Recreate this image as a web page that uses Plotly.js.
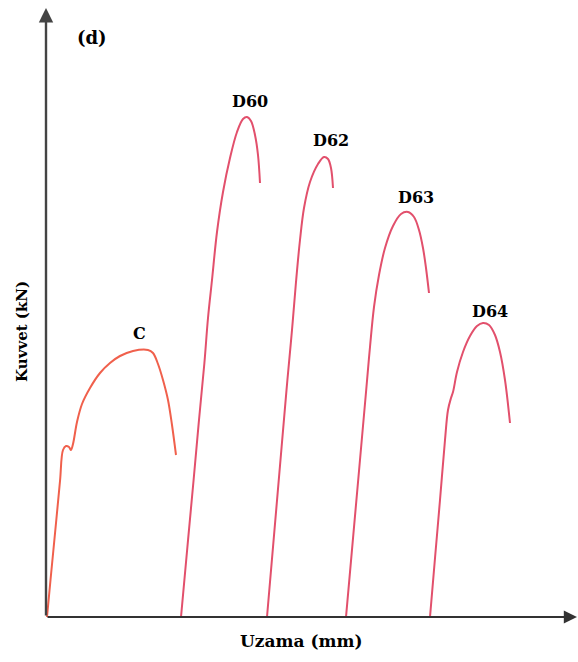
<!DOCTYPE html>
<html>
<head>
<meta charset="utf-8">
<script src="https://cdn.plot.ly/plotly-3.0.1.min.js"></script>
<style>html,body{margin:0;padding:0;background:#fff;}#chart{width:578px;height:662px;}</style>
</head>
<body>
<div id="chart"></div>
<script>
// Elongation (mm, arbitrary scale) and force (kN, arbitrary scale)
const seriesNames = ["C", "D60", "D62", "D63", "D64"];

const xC   = [0.1, 0.45, 1.03, 1.41, 1.7, 2.0, 2.3, 2.5, 2.7, 3.1, 3.6, 4.4, 5.4, 6.4, 7.4, 8.7, 10.2, 10.7, 11.2, 11.7, 12.2, 12.6, 13.0];
const yC   = [0.0, 3.7, 9.7, 13.7, 16.7, 17.1, 17.0, 16.7, 17.3, 19.5, 21.3, 22.9, 24.4, 25.4, 26.1, 26.6, 26.7, 26.4, 25.3, 23.7, 21.7, 19.2, 16.2];

const xD60 = [13.5, 14.14, 14.76, 15.3, 15.84, 16.2, 16.6, 17.1, 17.7, 18.4, 19.1, 19.7, 20.1, 20.5, 20.9, 21.2, 21.4];
const yD60 = [0.0, 7.0, 13.7, 19.7, 25.4, 29.9, 33.7, 38.5, 42.5, 45.9, 48.5, 49.8, 50.0, 49.6, 48.2, 46.2, 43.4];

const xD62 = [22.1, 23.56, 24.14, 24.6, 25.0, 25.4, 25.8, 26.4, 27.2, 27.8, 28.2, 28.5, 28.7];
const yD62 = [0.0, 17.0, 23.7, 28.7, 33.5, 37.7, 40.9, 43.5, 45.3, 46.0, 45.8, 44.9, 42.9];

const xD63 = [30.0, 31.22, 32.02, 32.4, 32.8, 33.3, 33.9, 34.7, 35.5, 36.2, 36.8, 37.3, 37.7, 38.0, 38.3];
const yD63 = [0.0, 13.7, 22.7, 27.0, 31.0, 34.2, 36.9, 39.1, 40.3, 40.5, 40.0, 38.7, 36.9, 34.9, 32.4];

const xD64 = [38.4, 38.91, 39.4, 39.9, 40.2, 40.5, 40.7, 41.1, 41.7, 42.4, 43.1, 43.7, 44.3, 44.9, 45.4, 45.9, 46.4];
const yD64 = [0.0, 6.0, 11.7, 17.7, 20.7, 21.9, 22.5, 24.5, 26.5, 28.1, 29.1, 29.4, 29.2, 28.2, 26.5, 23.7, 19.4];

// Curve label positions (data coordinates)
const labelX = [9.3, 20.4, 28.5, 37.0, 44.4];
const labelY = [28.4, 51.6, 47.7, 42.0, 30.6];

const xMax = 53.1, yMax = 61.2;

const xs = [xC, xD60, xD62, xD63, xD64];
const ys = [yC, yD60, yD62, yD63, yD64];
const colors = ["#f0604c", "#e2506c", "#e2506c", "#e2506c", "#e2506c"];

const traces = seriesNames.map((n, i) => ({
  x: xs[i], y: ys[i], name: n, type: "scatter", mode: "lines",
  line: {color: colors[i], width: 2, shape: "spline", smoothing: 1},
  hoverinfo: "skip", cliponaxis: false
}));

const font = {family: "DejaVu Serif", size: 16, color: "#000"};
const annotations = seriesNames.map((n, i) => ({
  x: labelX[i], y: labelY[i], xref: "x", yref: "y", text: "<b>" + n + "</b>",
  showarrow: false, font: font
}));
annotations.push({x: 4.6, y: 58.0, xref: "x", yref: "y", text: "<b>(d)</b>", showarrow: false,
  font: {family: "DejaVu Serif", size: 18, color: "#000"}});
// axis arrows
annotations.push({x: xMax, y: 0, xref: "x", yref: "y", ax: 0, ay: 0, axref: "x", ayref: "y",
  text: "", showarrow: true, arrowhead: 2, arrowsize: 1.2, arrowwidth: 2.2, arrowcolor: "#333"});
annotations.push({x: 0, y: yMax - 0.3, xref: "x", yref: "y", ax: 0, ay: 0, axref: "x", ayref: "y",
  text: "", showarrow: true, arrowhead: 2, arrowsize: 1.2, arrowwidth: 2.4, arrowcolor: "#444"});
// axis titles
annotations.push({x: 0.481, y: -0.039, xref: "paper", yref: "paper", text: "<b>Uzama (mm)</b>",
  showarrow: false, font: {family: "DejaVu Serif", size: 17, color: "#000"}, yanchor: "middle"});
annotations.push({x: -0.045, y: 0.466, xref: "paper", yref: "paper", text: "<b>Kuvvet (kN)</b>",
  showarrow: false, font: {family: "DejaVu Serif", size: 15, color: "#000"}, textangle: -90,
  xanchor: "center", yanchor: "middle"});

const layout = {
  width: 578, height: 662,
  margin: {l: 46, r: 1, t: 5, b: 45},
  paper_bgcolor: "#fff", plot_bgcolor: "#fff",
  showlegend: false,
  xaxis: {range: [0, xMax], showgrid: false, zeroline: false, showticklabels: false, ticks: "", showline: false, fixedrange: true},
  yaxis: {range: [0, yMax], showgrid: false, zeroline: false, showticklabels: false, ticks: "", showline: false, fixedrange: true},
  annotations: annotations
};

Plotly.newPlot("chart", traces, layout, {displayModeBar: false, staticPlot: true});
</script>
</body>
</html>
